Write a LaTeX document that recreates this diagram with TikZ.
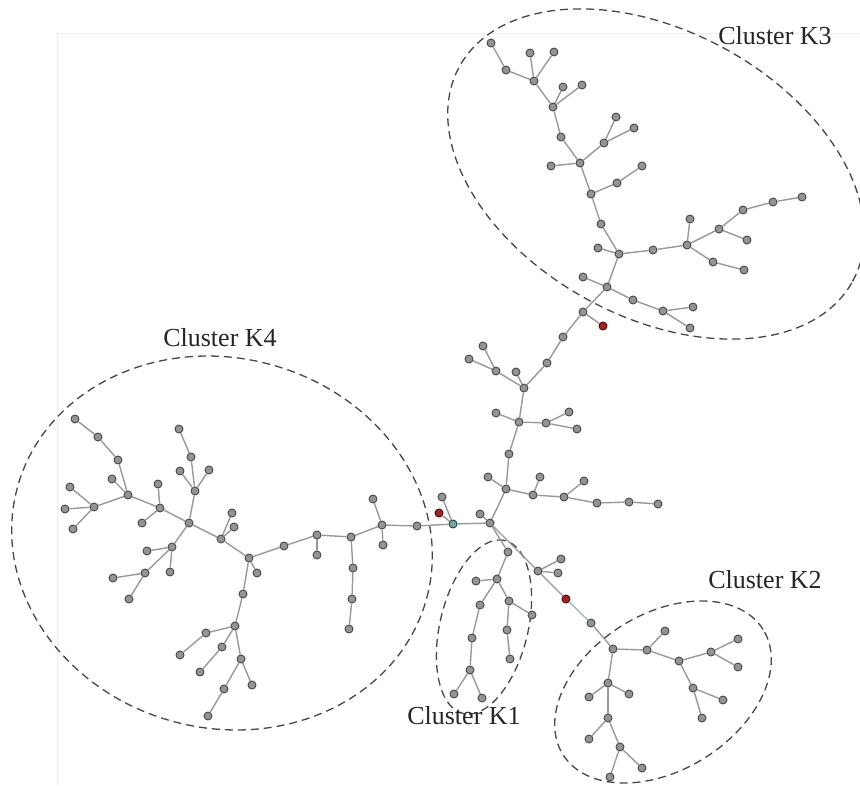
\documentclass[tikz,border=0pt]{standalone}
\usepackage{fontspec}
\setmainfont{Liberation Serif}
\begin{document}
\begin{tikzpicture}[x=1pt,y=-1pt,
  nd/.style={circle,draw=black!72,fill=black!42,line width=0.9pt,inner sep=0pt,minimum size=8pt},
  rednd/.style={nd,draw=red!35!black,fill=red!55!black!85},
  tealnd/.style={nd,draw=teal!60!black,fill=teal!30!black!45},
  edge/.style={draw=black!40,line width=1.4pt},
  gedge/.style={draw=teal!45!black!35,line width=1.4pt},
  cluster/.style={draw=black!72,line width=1.3pt,dash pattern=on 8pt off 5pt},
  lbl/.style={font=\fontsize{26}{30}\selectfont,inner sep=0pt,text=black!85}]
\useasboundingbox (0,0) rectangle (860,785);
\fill[white] (0,0) rectangle (860,785);
% faint frame
\draw[black!7,line width=0.8pt] (57,785) -- (57,33) -- (860,33);
% clusters
\draw[cluster,rotate around={-28.6:(656,174)}] (656,174) ellipse [x radius=224pt,y radius=143pt];
\draw[cluster,rotate around={-15:(222,543)}] (222,543) ellipse [x radius=212pt,y radius=185pt];
\draw[cluster,rotate around={76.4:(484,627)}] (484,627) ellipse [x radius=89pt,y radius=44pt];
\draw[cluster,rotate around={32:(663,692)}] (663,692) ellipse [x radius=118pt,y radius=78pt];
% labels
\node[lbl] (lk3) at (775,36) {Cluster K3};
\node[lbl] (lk4) at (220,338) {Cluster K4};
\node[lbl] (lk2) at (765,580) {Cluster K2};
\node[lbl] (lk1) at (464,716) {Cluster K1};
% nodes
\foreach \n/\x/\y in {a1/491/43, a2/506/70, a3/530/53, a4/554/52, a5/534/81, a6/563/87, a7/582/85, a8/553/107, a9/561/137, a10/580/163, a11/551/166, a12/604/143, a13/616/117, a14/634/128, a15/591/194, a16/617/183, a17/642/166,
 b1/601/224, b2/598/248, b3/619/254, b4/653/250, b5/687/245, b6/690/219, b7/719/229, b8/743/210, b9/773/202, b10/802/197, b11/747/240, b12/713/262, b13/744/270, b14/607/287, b15/583/277, b16/633/300, b17/663/311, b18/693/307, b19/690/328, b20/583/312,
 c1/563/337, c2/547/363, c3/524/388, c4/516/372, c5/496/371, c6/469/359, c7/483/346,
 d1/519/422, d2/496/413, d3/546/423, d4/569/412, d5/577/429, d6/509/454, d7/506/489, d8/488/477, d9/540/477, d10/533/495, d11/564/497, d12/584/481, d13/597/503, d14/629/502, d15/658/504,
 e0/490/523, e1/480/514, e3/442/497,
 f1/508/552, f2/538/571, f3/561/559, f4/558/573,
 g1/497/579, g2/476/581, g3/480/605, g4/472/638, g5/470/670, g6/454/694, g7/482/698, g8/509/601, g9/507/630, g10/510/659, g11/532/615,
 h1/591/623, h2/613/649, h3/647/650, h4/665/631, h5/679/661, h6/711/652, h7/738/639, h8/738/667, h9/693/688, h10/723/700, h11/702/718, h12/608/683, h13/589/697, h14/629/694, h15/608/718, h16/589/739, h17/620/747, h18/642/768, h19/610/777,
 k1/75/419, k2/98/437, k3/118/460, k4/128/495, k5/112/479, k6/94/507, k7/70/487, k8/65/509, k9/73/529, k10/160/508, k11/158/484, k12/142/523, k13/189/523, k14/195/491, k15/180/471, k16/209/470, k17/191/457, k18/179/429, k19/172/547, k20/147/551, k21/145/573, k22/170/572, k23/113/578, k24/129/599,
 m1/221/539, m2a/232/513, m2b/234/527, m2/249/558, m3a/257/573, m3/284/546, m4/317/535, m4a/317/555, m5/351/537, m5a/353/568, m5b/352/599, m5c/349/629, m6/382/525, m6a/373/499, m6b/383/545, m7/417/526,
 n1/243/594, n2/235/626, n3/206/633, n4/180/655, n5/222/647, n6/200/672, n7/241/659, n8/252/685, n9/224/689, n10/208/716}
  \node[nd] (\n) at (\x,\y) {};
\node[tealnd] (e2) at (453,524) {};
\node[rednd] (r1) at (603,326) {};
\node[rednd] (r2) at (439,513) {};
\node[rednd] (r3) at (566,599) {};
% edges
\foreach \p/\q in {a1/a2, a2/a5, a3/a5, a4/a5, a5/a8, a6/a8, a7/a8, a8/a9, a9/a10, a10/a11, a10/a12, a12/a13, a12/a14, a10/a15, a15/a16, a16/a17, a15/b1,
 b1/b3, b2/b3, b3/b4, b4/b5, b5/b6, b5/b7, b7/b8, b8/b9, b9/b10, b7/b11, b5/b12, b12/b13, b3/b14, b14/b15, b14/b16, b16/b17, b17/b18, b17/b19, b14/b20, b20/r1, b20/c1,
 c1/c2, c2/c3, c3/c4, c3/c5, c5/c6, c5/c7, c3/d1,
 d1/d2, d1/d3, d3/d4, d3/d5, d1/d6, d6/d7, d7/d8, d7/d10, d10/d9, d10/d11, d11/d12, d11/d13, d13/d14, d14/d15, d7/e0,
 e0/e1, e0/e2, e2/e3, e2/r2, e0/f1, e0/f2, f2/f3, f2/f4, f2/r3,
 f1/g1, g1/g2, g1/g3, g3/g4, g4/g5, g5/g6, g5/g7, g1/g8, g8/g9, g9/g10, g8/g11,
 h1/h2, h2/h3, h3/h4, h3/h5, h5/h6, h6/h7, h6/h8, h5/h9, h9/h10, h9/h11, h2/h12, h12/h13, h12/h14, h12/h15, h15/h16, h15/h17, h17/h18, h17/h19,
 k1/k2, k2/k3, k3/k4, k4/k5, k4/k6, k6/k7, k6/k8, k6/k9, k4/k10, k10/k11, k10/k12, k10/k13, k13/k14, k14/k15, k14/k16, k14/k17, k17/k18, k13/k19, k19/k20, k19/k21, k19/k22, k21/k23, k21/k24, k13/m1,
 m1/m2a, m1/m2b, m1/m2, m2/m3a, m2/m3, m3/m4, m4/m4a, m4/m5, m5/m5a, m5a/m5b, m5b/m5c, m5/m6, m6/m6a, m6/m6b, m6/m7, m7/e2,
 m2/n1, n1/n2, n2/n3, n3/n4, n2/n5, n5/n6, n2/n7, n7/n8, n7/n9, n9/n10}
  \draw[edge] (\p) -- (\q);
\draw[gedge] (r3) -- (h1);
\end{tikzpicture}
\end{document}
